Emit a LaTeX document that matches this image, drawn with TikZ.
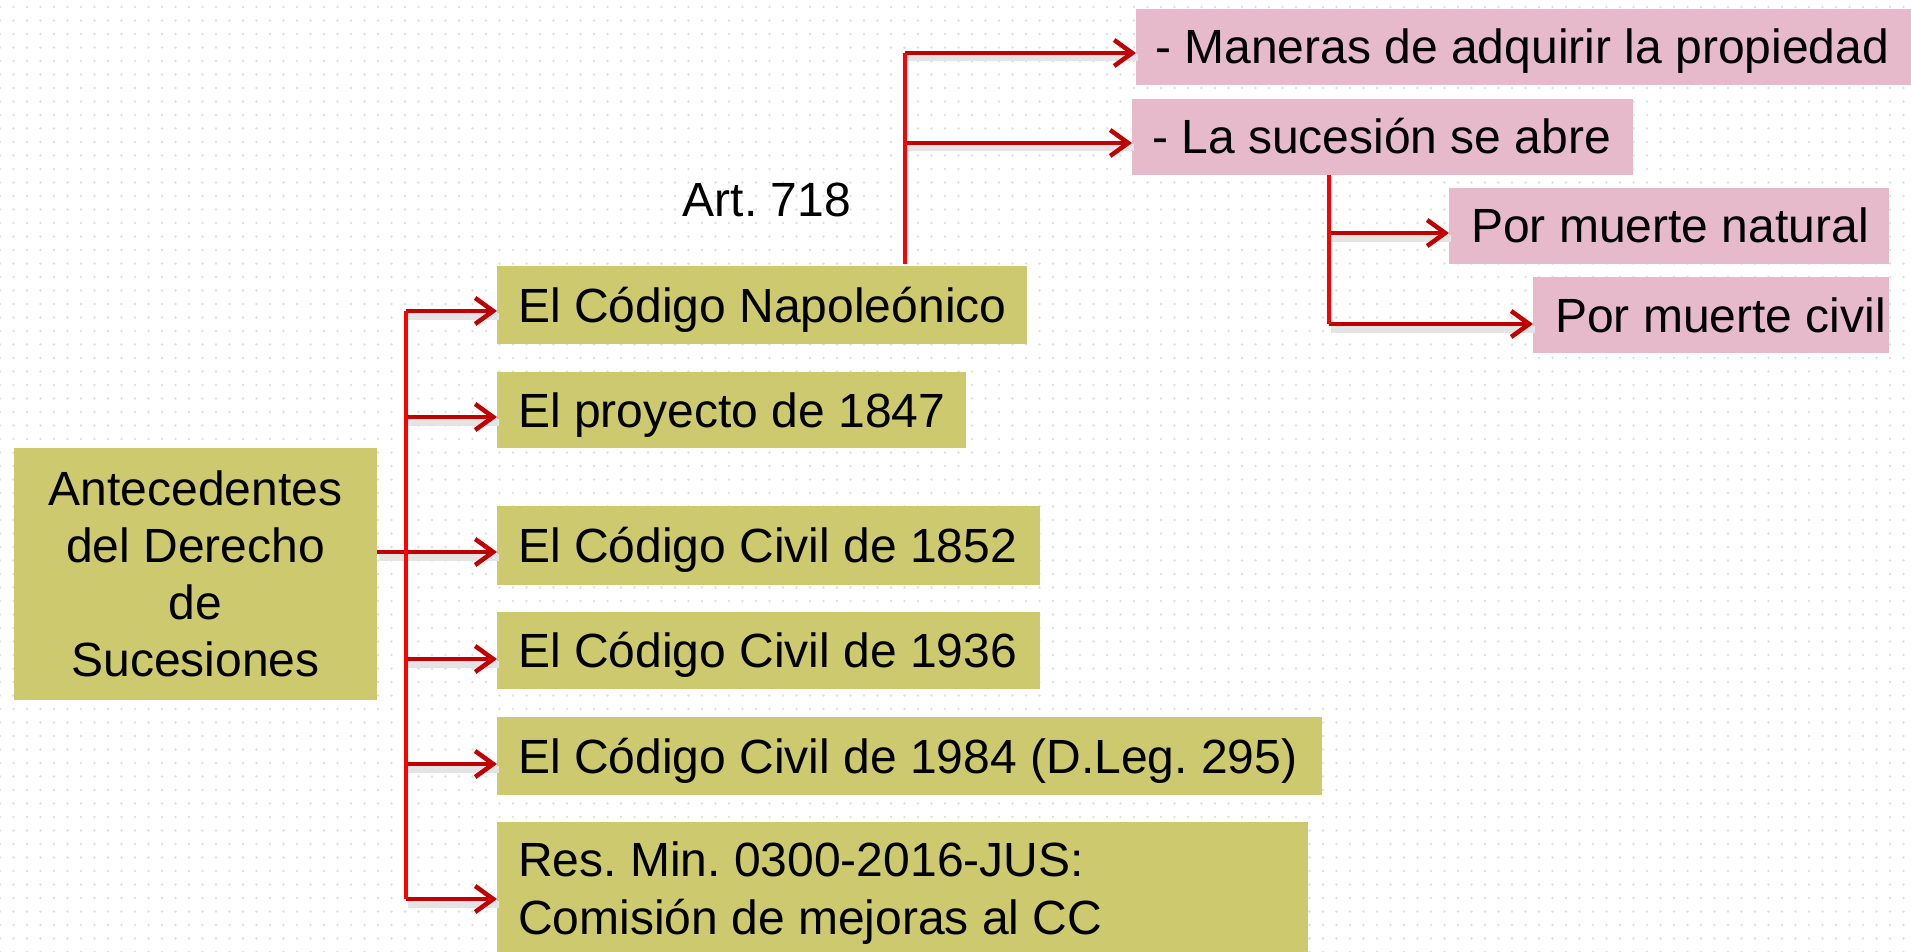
\documentclass[tikz,border=0pt]{standalone}
\usepackage{fontspec}
\setmainfont{Liberation Sans}
\usetikzlibrary{arrows.meta,patterns.meta}
\definecolor{gfill}{RGB}{204,201,110}
\definecolor{pfill}{RGB}{230,185,203}
\definecolor{darr}{RGB}{192,0,0}
\definecolor{vred}{RGB}{255,0,0}
\definecolor{dotc}{RGB}{224,224,224}
\definecolor{shad}{RGB}{228,228,228}
\frenchspacing
\begin{document}
\begin{tikzpicture}[x=1pt,y=-1pt,
  box/.style={anchor=north west, inner sep=0pt, outer sep=0pt},
  gbox/.style={box, fill=gfill},
  pbox/.style={box, fill=pfill},
  lbl/.style={anchor=west, inner sep=0pt, font=\fontsize{48}{57}\selectfont, text height=35pt, text depth=1pt},
  arr/.style={draw=darr, line width=4pt, -{Straight Barb[length=18pt,width=26pt,line width=4.5pt]},
    preaction={draw=shad, line width=7pt, -, transform canvas={shift={(2pt,-5pt)}}}},
  trunk/.style={draw=vred, line width=3.4pt},
]
\useasboundingbox (0,0) rectangle (1911,952);
\fill[white] (0,0) rectangle (1911,952);
\fill[pattern={Dots[distance=13.5pt,radius=1.4pt]}, pattern color=dotc] (0,0) rectangle (1911,952);

% main box
\node[gbox, minimum width=363pt, minimum height=252pt, align=center, font=\fontsize{48}{57}\selectfont] (m) at (14,448) {Antecedentes\\del Derecho\\de\\Sucesiones};

% green boxes
\node[gbox, minimum width=530pt, minimum height=78pt] (g1) at (497,266) {};
\node[gbox, minimum width=469pt, minimum height=76pt] (g2) at (497,372) {};
\node[gbox, minimum width=543pt, minimum height=79pt] (g3) at (497,506) {};
\node[gbox, minimum width=543pt, minimum height=77pt] (g4) at (497,612) {};
\node[gbox, minimum width=825pt, minimum height=78pt] (g5) at (497,717) {};
\node[gbox, minimum width=811pt, minimum height=130pt] (g6) at (497,822) {};

\node[lbl] (t1) at ([xshift=21pt]g1.west) {El Código Napoleónico};
\node[lbl] (t2) at ([xshift=21pt]g2.west) {El proyecto de 1847};
\node[lbl] (t3) at ([xshift=21pt]g3.west) {El Código Civil de 1852};
\node[lbl] (t4) at ([xshift=21pt]g4.west) {El Código Civil de 1936};
\node[lbl] (t5) at ([xshift=21pt]g5.west) {El Código Civil de 1984 (D.Leg. 295)};
\node[anchor=west, inner sep=0pt, align=left, font=\fontsize{48}{58}\selectfont] (t6) at ([xshift=21pt,yshift=-6pt]g6.west) {Res. Min. 0300-2016-JUS:\\Comisión de mejoras al CC};

% pink boxes
\node[pbox, minimum width=775pt, minimum height=76pt] (p1) at (1136,9) {};
\node[pbox, minimum width=501pt, minimum height=76pt] (p2) at (1132,99) {};
\node[pbox, minimum width=440pt, minimum height=76pt] (p3) at (1449,188) {};
\node[pbox, minimum width=356pt, minimum height=76pt] (p4) at (1533,277) {};

\node[lbl] (q1) at ([xshift=19pt]p1.west) {- Maneras de adquirir la propiedad};
\node[lbl] (q2) at ([xshift=20pt]p2.west) {- La sucesión se abre};
\node[lbl] (q3) at ([xshift=22pt]p3.west) {Por muerte natural};
\node[lbl] (q4) at ([xshift=22pt]p4.west) {Por muerte civil};

\node[lbl, anchor=center] (art) at (767,199) {Art. 718};

% main trunk
\coordinate (j1) at (406,311);
\coordinate (j2) at (406,417);
\coordinate (j3) at (406,552);
\coordinate (j4) at (406,659);
\coordinate (j5) at (406,764);
\coordinate (j6) at (406,899);
\draw[arr] (j1) -- (j1 -| g1.west);
\draw[arr] (j2) -- (j2 -| g2.west);
\draw[arr] (m.east |- j3) -- (j3 -| g3.west);
\draw[arr] (j4) -- (j4 -| g4.west);
\draw[arr] (j5) -- (j5 -| g5.west);
\draw[arr] (j6) -- (j6 -| g6.west);
\draw[trunk] (j1) -- (j6);

% upper trunk
\coordinate (u0) at (905,264);
\coordinate (u1) at (905,53);
\coordinate (u2) at (905,143);
\draw[arr] (u1) -- (u1 -| p1.west);
\draw[arr] (u2) -- (u2 -| p2.west);
\draw[trunk] (u0) -- (u1);

% lower trunk
\coordinate (v0) at (1329,175);
\coordinate (v1) at (1329,233);
\coordinate (v2) at (1329,324);
\draw[arr] (v1) -- (v1 -| p3.west);
\draw[arr] (v2) -- (v2 -| p4.west);
\draw[trunk] (v0) -- (v2);
\end{tikzpicture}
\end{document}
